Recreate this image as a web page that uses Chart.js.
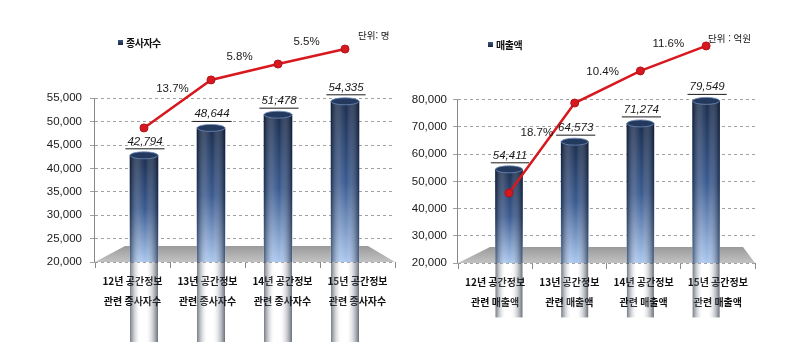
<!DOCTYPE html>
<html lang="ko">
<head>
<meta charset="utf-8">
<title>공간정보 종사자수 / 매출액</title>
<script src="https://cdn.jsdelivr.net/npm/chart.js@4.4.1/dist/chart.umd.min.js"></script>
<style>
  body { margin: 0; width: 799px; height: 342px; background: #fff; position: relative; overflow: hidden;
         font-family: "Noto Sans CJK KR", "Noto Sans", sans-serif; }
  .panel { position: absolute; top: 0; height: 342px; }
  #leftPanel { left: 0; width: 400px; }
  #rightPanel { left: 400px; width: 399px; }
  .legend { position: absolute; font-size: 10px; font-weight: bold; color: #111; letter-spacing: -0.5px; line-height: 12px; white-space: nowrap; }
  .legend i { display: inline-block; width: 5px; height: 5px; background: linear-gradient(#3a5680, #17263f); margin-right: 3px; vertical-align: 2px; }
  .unit { position: absolute; font-size: 9.5px; color: #111; line-height: 12px; white-space: nowrap; }
</style>
</head>
<body>
<div class="panel" id="leftPanel">
  <canvas id="employeeChart" width="400" height="342"></canvas>
  <div class="legend" style="left:118px; top:37px;"><i></i>종사자수</div>
  <div class="unit" style="left:358px; top:29px;">단위: 명</div>
</div>
<div class="panel" id="rightPanel">
  <canvas id="salesChart" width="399" height="342"></canvas>
  <div class="legend" style="left:88px; top:39px;"><i></i>매출액</div>
  <div class="unit" style="left:308px; top:32px;">단위 : 억원</div>
</div>
<script>
// Left chart: 공간정보 관련 종사자수
const employeeLabels = [['12년 공간정보', '관련 종사자수'], ['13년 공간정보', '관련 종사자수'],
                        ['14년 공간정보', '관련 종사자수'], ['15년 공간정보', '관련 종사자수']];
const employeeCounts = [42794, 48644, 51478, 54335];
const employeeGrowth = [13.7, 5.8, 5.5];
// height of the red growth line on its hidden 0-100 axis
const employeeTrend = [57.3, 77.8, 84.6, 91.0];
const employeeTicks = [20000, 25000, 30000, 35000, 40000, 45000, 50000, 55000];

// Right chart: 공간정보 관련 매출액
const salesLabels = [['12년 공간정보', '관련 매출액'], ['13년 공간정보', '관련 매출액'],
                     ['14년 공간정보', '관련 매출액'], ['15년 공간정보', '관련 매출액']];
const salesAmounts = [54411, 64573, 71274, 79549];
const salesGrowth = [18.7, 10.4, 11.6];
const salesTrend = [28.6, 65.3, 78.4, 88.6];
const salesTicks = [20000, 30000, 40000, 50000, 60000, 70000, 80000];

const NUM_FONT = '"Liberation Sans", Arial, sans-serif';

// floor, axis line, cylinder shading and the value / growth labels
const cylinderPlugin = {
    id: 'cylinder',
    beforeDatasetsDraw(chart, args, opts) {
        const { ctx, chartArea: a, scales: { y } } = chart;
        ctx.save();
        const g = ctx.createLinearGradient(0, a.bottom - opts.depth, 0, a.bottom);
        g.addColorStop(0, '#9a9a9a');
        g.addColorStop(1, '#c2c2c2');
        ctx.fillStyle = g;
        ctx.beginPath();
        ctx.moveTo(a.left, a.bottom);
        ctx.lineTo(a.left + opts.backLeft, a.bottom - opts.depth);
        ctx.lineTo(a.right - opts.backRight, a.bottom - opts.depth);
        ctx.lineTo(a.right, a.bottom);
        ctx.closePath();
        ctx.fill();
        ctx.strokeStyle = '#8a8a8a';
        ctx.lineWidth = 1;
        ctx.beginPath();
        ctx.moveTo(a.left - 0.5, y.getPixelForValue(y.ticks[y.ticks.length - 1].value));
        ctx.lineTo(a.left - 0.5, a.bottom);
        ctx.stroke();
        ctx.restore();
    },
    afterDatasetDraw(chart, args) {
        if (args.meta.type !== 'bar') return;
        const ctx = chart.ctx;
        ctx.save();
        args.meta.data.forEach(el => {
            const w = el.width, l = el.x - w / 2;
            const g = ctx.createLinearGradient(l, 0, l + w, 0);
            g.addColorStop(0, 'rgba(5,15,35,0.55)');
            g.addColorStop(0.35, 'rgba(255,255,255,0.12)');
            g.addColorStop(0.55, 'rgba(255,255,255,0)');
            g.addColorStop(1, 'rgba(5,15,35,0.6)');
            ctx.fillStyle = g;
            ctx.fillRect(l, el.y, w, el.base - el.y);
            ctx.beginPath();
            ctx.ellipse(el.x, el.y, w / 2, 3.5, 0, 0, Math.PI * 2);
            ctx.fillStyle = '#24395e';
            ctx.fill();
            ctx.strokeStyle = '#6f8bb8';
            ctx.lineWidth = 0.8;
            ctx.stroke();
        });
        ctx.restore();
    },
    afterDatasetsDraw(chart, args, opts) {
        const ctx = chart.ctx;
        const bars = chart.getDatasetMeta(0).data;
        const pts = chart.getDatasetMeta(1).data;
        const values = chart.data.datasets[0].data;
        ctx.save();
        ctx.fillStyle = '#1a1a1a';
        ctx.strokeStyle = '#1a1a1a';
        ctx.textAlign = 'center';
        ctx.textBaseline = 'middle';
        ctx.font = 'italic 11.5px ' + NUM_FONT;
        bars.forEach((el, i) => {
            const txt = values[i].y.toLocaleString('en-US');
            const ty = el.y - 14;
            ctx.fillText(txt, el.x + 1, ty);
            const tw = ctx.measureText(txt).width + 4;
            ctx.lineWidth = 1;
            ctx.beginPath();
            ctx.moveTo(el.x + 1 - tw / 2, ty + 7.5);
            ctx.lineTo(el.x + 1 + tw / 2, ty + 7.5);
            ctx.stroke();
        });
        ctx.font = '11.5px ' + NUM_FONT;
        opts.growth.forEach((g, i) => {
            const p = pts[i], q = pts[i + 1];
            ctx.fillText(g.toFixed(1) + '%', (p.x + q.x) / 2 - 5, (p.y + q.y) / 2 - 15);
        });
        ctx.restore();
    }
};

function barFill(context) {
    const chart = context.chart;
    if (!chart.chartArea || !context.raw) return '#2a4470';
    const y = chart.scales.y;
    const top = y.getPixelForValue(context.raw.y);
    const g = chart.ctx.createLinearGradient(0, top, 0, y.getPixelForValue(y.min));
    g.addColorStop(0, '#1b2d4e');
    g.addColorStop(0.5, '#3a5a8f');
    g.addColorStop(1, '#abc7ee');
    return g;
}

function makeChart(id, cfg) {
    const ctx = document.getElementById(id).getContext('2d');
    return new Chart(ctx, {
        type: 'bar',
        data: {
            labels: cfg.labels,
            datasets: [{
                type: 'bar',
                label: cfg.name,
                data: cfg.values.map((v, i) => ({ x: i, y: v })),
                xAxisID: 'xb',
                yAxisID: 'y',
                barThickness: cfg.barWidth,
                backgroundColor: barFill,
                order: 2
            }, {
                type: 'line',
                label: '증가율',
                data: cfg.trend.map((v, i) => ({ x: i, y: v })),
                xAxisID: 'xb',
                yAxisID: 'y2',
                borderColor: '#d7191f',
                borderWidth: 2.5,
                pointRadius: 4,
                pointBackgroundColor: '#d7191f',
                pointBorderColor: '#b3111a',
                pointBorderWidth: 1,
                tension: 0,
                clip: false,
                order: 1
            }]
        },
        options: {
            responsive: false,
            animation: false,
            layout: { padding: cfg.padding },
            plugins: {
                legend: { display: false },
                tooltip: { enabled: false },
                cylinder: { growth: cfg.growth, depth: 16, backLeft: cfg.backLeft, backRight: cfg.backRight }
            },
            scales: {
                x: {
                    type: 'category',
                    labels: cfg.labels,
                    offset: true,
                    grid: { offset: true, drawOnChartArea: false, drawTicks: true, tickLength: 6, color: '#8a8a8a' },
                    border: { display: false },
                    ticks: {
                        padding: 3,
                        color: '#111',
                        font: { family: '"Noto Sans CJK KR", sans-serif', size: 10, weight: 'bold', lineHeight: 2 },
                        maxRotation: 0,
                        autoSkip: false
                    },
                    afterFit: s => { s.height = cfg.xHeight; }
                },
                xb: {
                    type: 'linear',
                    display: false,
                    offset: false,
                    min: cfg.xMin,
                    max: cfg.xMax
                },
                y: {
                    type: 'linear',
                    min: cfg.yMin,
                    max: cfg.yMax,
                    afterBuildTicks: s => { s.ticks = cfg.ticks.map(v => ({ value: v })); },
                    grid: { color: '#a0a0a0', lineWidth: 1, drawTicks: true, tickLength: 5 },
                    border: { display: false, dash: [3, 3] },
                    ticks: {
                        padding: cfg.tickPad,
                        color: '#1a1a1a',
                        font: { family: NUM_FONT, size: 11.5 },
                        callback: v => v.toLocaleString('en-US')
                    },
                    afterFit: s => { s.width = cfg.yWidth; }
                },
                y2: { type: 'linear', display: false, min: 0, max: 100 }
            }
        },
        plugins: [cylinderPlugin]
    });
}

document.addEventListener('DOMContentLoaded', () => {
    makeChart('employeeChart', {
        name: '종사자수', labels: employeeLabels, values: employeeCounts, trend: employeeTrend,
        growth: employeeGrowth, ticks: employeeTicks,
        yMin: 20000, yMax: 70000, xMin: -0.731, xMax: 3.746,
        padding: { top: 28, right: 5, left: 0, bottom: 0 },
        xHeight: 80, yWidth: 95, tickPad: 8, barWidth: 28, backLeft: 30, backRight: 27
    });
    makeChart('salesChart', {
        name: '매출액', labels: salesLabels, values: salesAmounts, trend: salesTrend,
        growth: salesGrowth, ticks: salesTicks,
        yMin: 20000, yMax: 110000, xMin: -0.776, xMax: 3.744,
        padding: { top: 18, right: 44, left: 0, bottom: 0 },
        xHeight: 79, yWidth: 58, tickPad: 6, barWidth: 27, backLeft: 32, backRight: 12
    });
});
</script>
</body>
</html>
